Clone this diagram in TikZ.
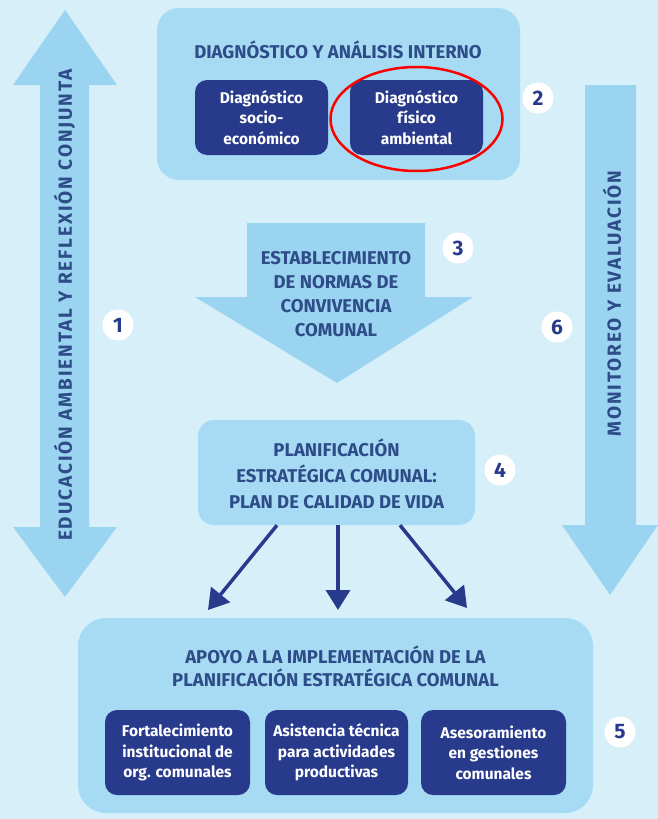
\documentclass[tikz,border=0pt]{standalone}
\usepackage{fontspec}
\setmainfont{Fira Sans}
\newfontfamily\sidefont[LetterSpace=10]{Fira Sans}
\usetikzlibrary{arrows.meta,positioning}
\definecolor{bg}{HTML}{D7EFF9}
\definecolor{pale}{HTML}{A6DBF3}
\definecolor{arr}{HTML}{9AD4F0}
\definecolor{navy}{HTML}{283A8C}
\definecolor{ink}{HTML}{2E4C88}
\tikzset{
	panel/.style={fill=pale, rounded corners=22pt, inner sep=0pt},
	sub/.style={fill=navy, rounded corners=12pt, text=white, align=center, inner sep=0pt,
			font=\bfseries\fontsize{15.5}{20.5}\selectfont},
	heading/.style={text=ink, align=center, font=\bfseries\fontsize{18.5}{24}\selectfont},
	num/.style={circle, fill=white, minimum size=31pt, inner sep=0pt, text=navy,
			font=\bfseries\fontsize{21}{21}\selectfont},
	side/.style={text=ink, rotate=90, font=\sidefont\bfseries\fontsize{19}{19}\selectfont},
	link/.style={draw=navy, line width=3.5pt, -{Triangle[length=20pt,width=24pt]}}
}
\begin{document}
\begin{tikzpicture}[x=1pt,y=-1pt]
	\fill[bg] (0,0) rectangle (658,819);
	\useasboundingbox (0,0) rectangle (658,819);

	\fill[arr] (65,10) -- (117,85) -- (89,85) -- (89,527) -- (117,527) -- (65,597)
		-- (13,527) -- (40,527) -- (40,85) -- (13,85) -- cycle;
	\node[side] (educ) at (64.5,305) {EDUCACIÓN AMBIENTAL Y REFLEXIÓN CONJUNTA};
	\fill[arr] (585,85) -- (636,85) -- (636,525) -- (658,525) -- (610,595) -- (562,525) -- (585,525) -- cycle;
	\node[side] (moni) at (612,303.5) {MONITOREO Y EVALUACIÓN};

	\node[panel, minimum width=363pt, minimum height=172pt] (diag) at (338.5,94) {};
	\node[heading] (diagt) at (338,50) {DIAGNÓSTICO Y ANÁLISIS INTERNO};
	\node[sub, minimum width=133pt, minimum height=75pt] (socio) at (261.5,117.5) {Diagnóstico\\socio-\\económico};
	\node[sub, minimum width=133pt, minimum height=75pt] (fisico) at (416.5,117.5) {Diagnóstico\\físico\\ambiental};
	\draw[red, line width=2.5pt] (416.5,119) ellipse [x radius=86pt, y radius=52pt];

	\fill[arr] (247,223) -- (425,223) -- (425,297) -- (473,297) -- (337,383) -- (195,297) -- (247,297) -- cycle;
	\node[heading] (normas) at (336,294) {ESTABLECIMIENTO\\DE NORMAS DE\\CONVIVENCIA\\COMUNAL};

	\node[panel, rounded corners=16pt, minimum width=277pt, minimum height=105pt] (plan) at (336.5,472.5) {};
	\node[heading, font=\bfseries\fontsize{18.5}{26}\selectfont] (plant) at (336.5,474) {PLANIFICACIÓN\\ESTRATÉGICA COMUNAL:\\PLAN DE CALIDAD DE VIDA};

	\node[panel, rounded corners=28pt, minimum width=515pt, minimum height=195pt] (apoyo) at (335.5,715.5) {};
	\node[heading, font=\bfseries\fontsize{18.5}{23}\selectfont] (apoyot) at (335.5,666.5) {APOYO A LA IMPLEMENTACIÓN DE LA\\PLANIFICACIÓN ESTRATÉGICA COMUNAL};
	\node[sub, minimum width=145pt, minimum height=85pt] (fort) at (177.5,752.5) {Fortalecimiento\\institucional de\\org. comunales};
	\node[sub, minimum width=143pt, minimum height=85pt] (asis) at (336.5,752.5) {Asistencia técnica\\para actividades\\productivas};
	\node[sub, minimum width=145pt, minimum height=85pt] (ases) at (493.5,752.5) {Asesoramiento\\en gestiones\\comunales};

	\coordinate (e1) at (208,610);
	\coordinate (e2) at (338,610);
	\coordinate (e3) at (467,608);
	\draw[link] ([xshift=-59.5pt]plan.south) -- (e1);
	\draw[link] ([xshift=1.5pt]plan.south) -- (e2);
	\draw[link] ([xshift=63.5pt]plan.south) -- (e3);

	\node[num] (n1) at (118,325) {1};
	\node[num] (n2) at (538,98) {2};
	\node[num] (n3) at (458,248) {3};
	\node[num] (n4) at (500,470) {4};
	\node[num] (n5) at (620,732) {5};
	\node[num] (n6) at (557,327) {6};
\end{tikzpicture}
\end{document}
